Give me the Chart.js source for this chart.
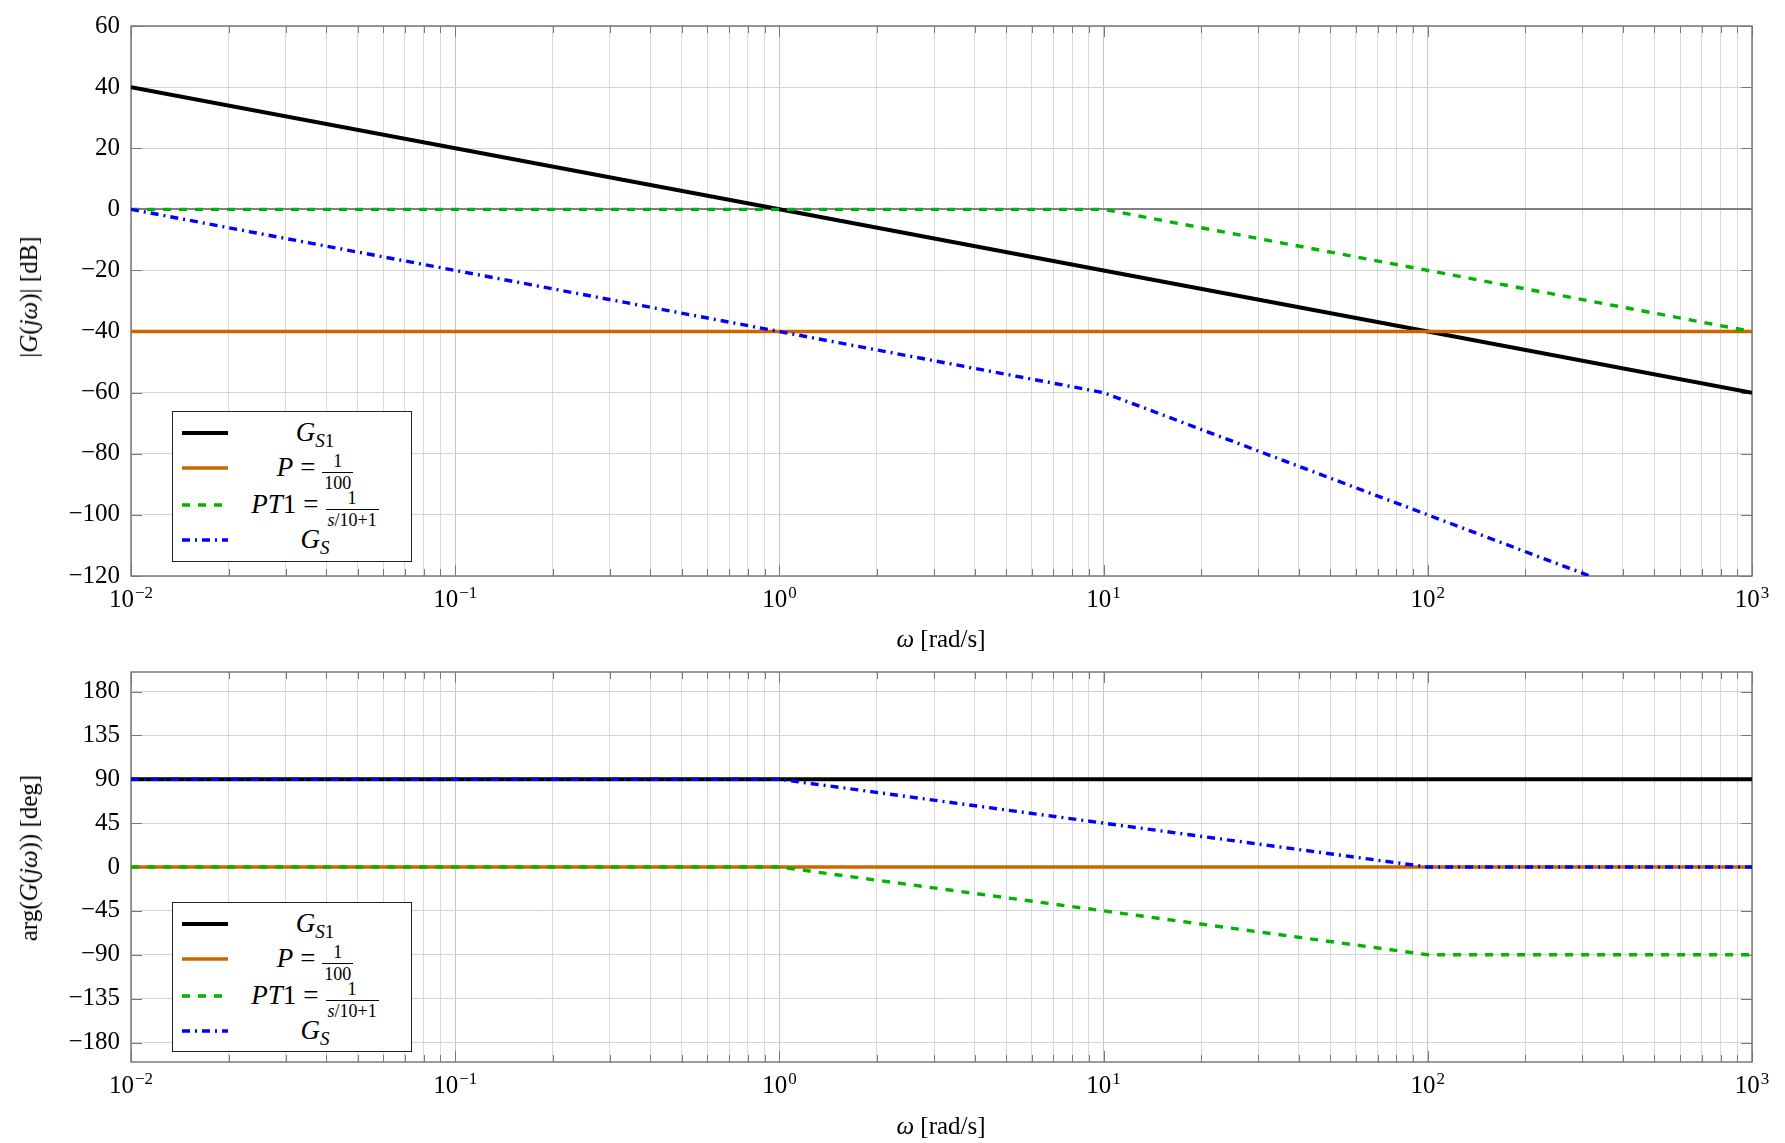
<!DOCTYPE html>
<html>
<head>
<meta charset="utf-8">
<script src="https://cdn.jsdelivr.net/npm/chart.js@4/dist/chart.umd.min.js"></script>
<style>
  body { margin: 0; background: #fff; }
  #page { position: relative; width: 1785px; height: 1143px; font-family: "Liberation Serif", "DejaVu Serif", serif; color: #000; }
  .wrap { position: absolute; left: 0; width: 1785px; }
  .ytitle { position: absolute; font-size: 25px; white-space: nowrap; transform: translate(-50%, -50%) rotate(-90deg); }
  .xtitle { position: absolute; font-size: 25px; white-space: nowrap; transform: translate(-50%, -50%); }
  .legend { position: absolute; left: 172px; width: 238px; border: 1.5px solid #222; background: #fff; }
  .row { position: absolute; left: 0; width: 100%; height: 0; }
  .row svg { position: absolute; left: 9px; top: -4px; }
  .lab { position: absolute; left: 46px; right: 0; top: -16px; height: 30px; line-height: 30px; text-align: center; font-size: 27px; white-space: nowrap; }
  .eq { margin: 0 7px; }
  .frac { display: inline-flex; flex-direction: column; align-items: stretch; font-size: 18px; line-height: 1.0; vertical-align: 9px; margin: -40px 0 -40px 0; }
  .frac .num { border-bottom: 1px solid #000; text-align: center; padding: 0 2px 2px; }
  .frac .den { text-align: center; padding: 1px 2px 0; }
  sub { font-size: 19px; vertical-align: -6px; line-height: 0; }
</style>
</head>
<body>
<div id="page">
  <div class="wrap" style="top:0;height:646px"><canvas id="mag" width="1785" height="646"></canvas></div>
  <div class="wrap" style="top:646px;height:497px"><canvas id="phase" width="1785" height="497"></canvas></div>
  <div class="ytitle" style="left:29px;top:297px">|<i>G</i>(<i>jω</i>)| [dB]</div>
  <div class="xtitle" style="left:941px;top:639px"><i>ω</i> [rad/s]</div>
  <div class="ytitle" style="left:29px;top:858px">arg(<i>G</i>(<i>jω</i>)) [deg]</div>
  <div class="xtitle" style="left:941px;top:1126px"><i>ω</i> [rad/s]</div>
  <div class="legend" id="legMag" style="top:411px;height:149px"></div>
  <div class="legend" id="legPhase" style="top:902px;height:148px"></div>
</div>
<script>
// breakpoints of the asymptotic Bode plot
const omega = [0.01, 1, 10, 100, 1000];

const magGS1 = [40, 0, -20, -40, -60];
const magP = [-40, -40, -40, -40, -40];
const magPT1 = [0, 0, 0, -20, -40];
const magGS = [0, -40, -60, -100, -140];

const phaseGS1 = [90, 90, 90, 90, 90];
const phaseP = [0, 0, 0, 0, 0];
const phasePT1 = [0, 0, -45, -90, -90];
const phaseGS = [90, 90, 45, 0, 0];

const magTicks = [-120, -100, -80, -60, -40, -20, 0, 20, 40, 60];
const phaseTicks = [-180, -135, -90, -45, 0, 45, 90, 135, 180];
const decades = [-2, -1, 0, 1, 2, 3];

const seriesLabels = [
  '<i>G</i><sub><i>S</i>1</sub>',
  '<i>P</i><span class="eq">=</span><span class="frac"><span class="num">1</span><span class="den">100</span></span>',
  '<i>PT</i>1<span class="eq">=</span><span class="frac"><span class="num">1</span><span class="den"><i>s</i>/10+1</span></span>',
  '<i>G</i><sub><i>S</i></sub>'
];
const seriesStyle = [
  { color: '#000000', width: 4, dash: [] },
  { color: '#cc6600', width: 3.6, dash: [] },
  { color: '#00b400', width: 3.4, dash: [8, 8] },
  { color: '#0000ff', width: 3.4, dash: [8, 5, 2, 5] }
];

const FONT = '"Liberation Serif", "DejaVu Serif", serif';

// 1..9 x 10^d for the log grid
const logTicks = [];
decades.forEach((d, i) => {
  if (i === decades.length - 1) { logTicks.push(Math.pow(10, d)); return; }
  for (let k = 1; k <= 9; k++) logTicks.push(Number((k * Math.pow(10, d)).toPrecision(6)));
});
const isDecade = v => Math.abs(Math.log10(v) - Math.round(Math.log10(v))) < 1e-6;
const minus = v => v < 0 ? '\u2212' + Math.abs(v) : String(v);

function pts(ys) { return omega.map((x, i) => ({ x: x, y: ys[i] })); }

function makeDatasets(series) {
  return series.map((ys, i) => ({
    label: 'series' + i,
    data: pts(ys),
    borderColor: seriesStyle[i].color,
    borderWidth: seriesStyle[i].width,
    borderDash: seriesStyle[i].dash,
    pointRadius: 0,
    tension: 0,
    fill: false,
    order: 4 - i
  }));
}

const framePlugin = {
  id: 'frame',
  beforeDatasetsDraw(chart) {
    const { ctx, chartArea: a, scales } = chart;
    ctx.save();
    ctx.strokeStyle = '#7a7a7a';
    ctx.lineWidth = 1;
    const seg = (x1, y1, x2, y2) => { ctx.beginPath(); ctx.moveTo(x1, y1); ctx.lineTo(x2, y2); ctx.stroke(); };
    scales.x.ticks.forEach(t => {
      const px = Math.round(scales.x.getPixelForValue(t.value)) + 0.5;
      const len = isDecade(t.value) ? 11 : 7;
      seg(px, a.bottom, px, a.bottom - len);
      seg(px, a.top, px, a.top + len);
    });
    scales.y.ticks.forEach(t => {
      const py = Math.round(scales.y.getPixelForValue(t.value)) + 0.5;
      seg(a.left, py, a.left + 11, py);
      seg(a.right, py, a.right - 11, py);
    });
    ctx.lineWidth = 1.5;
    ctx.strokeRect(a.left, a.top, a.right - a.left, a.bottom - a.top);
    ctx.restore();
  }
};

const xLabelPlugin = {
  id: 'xlabels',
  afterDraw(chart) {
    const { ctx, chartArea: a, scales: { x } } = chart;
    ctx.save();
    ctx.fillStyle = '#000';
    ctx.textAlign = 'left';
    ctx.textBaseline = 'alphabetic';
    decades.forEach(d => {
      const base = '10', exp = minus(d);
      ctx.font = '25px ' + FONT;
      const wb = ctx.measureText(base).width;
      ctx.font = '17px ' + FONT;
      const we = ctx.measureText(exp).width;
      const left = x.getPixelForValue(Math.pow(10, d)) - (wb + we + 1) / 2;
      ctx.font = '25px ' + FONT;
      ctx.fillText(base, left, a.bottom + 31);
      ctx.font = '17px ' + FONT;
      ctx.fillText(exp, left + wb + 1, a.bottom + 22);
    });
    ctx.restore();
  }
};

function makeChart(id, series, yTicks, yMin, yMax, xHeight) {
  return new Chart(document.getElementById(id), {
    type: 'line',
    data: { datasets: makeDatasets(series) },
    options: {
      responsive: false,
      animation: false,
      layout: { padding: { left: 0, right: 33, top: 18, bottom: 0 } },
      plugins: { legend: { display: false }, tooltip: { enabled: false } },
      scales: {
        x: {
          type: 'logarithmic',
          min: 0.01,
          max: 1000,
          afterBuildTicks: s => { s.ticks = logTicks.map(v => ({ value: v })); },
          afterFit: s => { s.height = xHeight; },
          ticks: { display: false, autoSkip: false },
          grid: {
            drawTicks: false,
            color: c => isDecade(c.tick.value) ? '#c4c4c4' : '#d9d9d9',
            lineWidth: 1
          },
          border: { display: false }
        },
        y: {
          min: yMin,
          max: yMax,
          afterBuildTicks: s => { s.ticks = yTicks.map(v => ({ value: v })); },
          afterFit: s => { s.width = 131; },
          ticks: {
            autoSkip: false,
            padding: 11,
            color: '#000',
            font: { family: FONT, size: 25 },
            callback: v => minus(v)
          },
          grid: {
            drawTicks: false,
            color: c => c.tick.value === 0 ? '#808080' : '#d4d4d4',
            lineWidth: c => c.tick.value === 0 ? 2 : 1
          },
          border: { display: false }
        }
      }
    },
    plugins: [framePlugin, xLabelPlugin]
  });
}

makeChart('mag', [magGS1, magP, magPT1, magGS], magTicks, -120, 60, 70);
makeChart('phase', [phaseGS1, phaseP, phasePT1, phaseGS], phaseTicks, -200, 200, 81);

// boxed legends drawn in HTML (labels contain fractions)
const rowCenters = [21, 56, 93, 128];
function buildLegend(id) {
  const box = document.getElementById(id);
  seriesLabels.forEach((lab, i) => {
    const st = seriesStyle[i];
    const row = document.createElement('div');
    row.className = 'row';
    row.style.top = rowCenters[i] + 'px';
    row.innerHTML =
      '<svg width="46" height="8"><line x1="0" y1="4" x2="46" y2="4" stroke="' + st.color +
      '" stroke-width="' + st.width + '" stroke-dasharray="' + (st.dash.length ? st.dash.join(',') : 'none') +
      '"/></svg><div class="lab">' + lab + '</div>';
    box.appendChild(row);
  });
}
buildLegend('legMag');
buildLegend('legPhase');
</script>
</body>
</html>
